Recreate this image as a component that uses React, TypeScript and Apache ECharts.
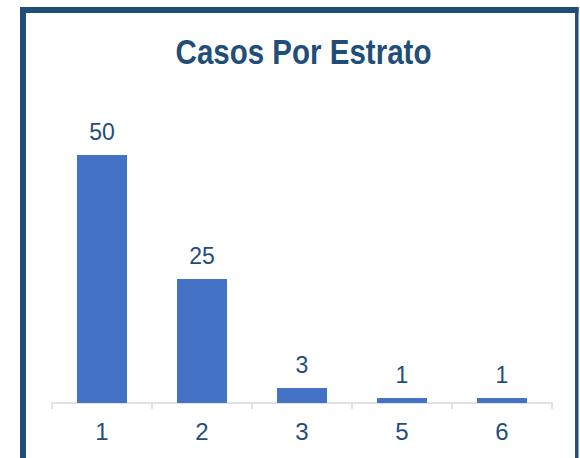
import React, { useEffect, useRef } from "react";
import * as echarts from "echarts";

const categories = ["1", "2", "3", "5", "6"];
const casos = [50, 25, 3, 1, 1];
const titleText = "Casos Por Estrato";

const FONT = "'Liberation Sans Narrow', 'Arial Narrow', 'Liberation Sans', Arial, sans-serif";
const DARK = "#1F4E79";

export default function App() {
  const ref = useRef<HTMLDivElement>(null);
  useEffect(() => {
    if (!ref.current) return;
    const chart = echarts.init(ref.current, undefined, { renderer: "svg" });
    chart.setOption({
      animation: false,
      backgroundColor: "#ffffff",
      graphic: [
        { type: "rect", shape: { x: 20, y: 7, width: 6, height: 460 }, style: { fill: DARK } },
        { type: "rect", shape: { x: 20, y: 7, width: 558.5, height: 6 }, style: { fill: DARK } },
        { type: "rect", shape: { x: 575, y: 7, width: 3.5, height: 460 }, style: { fill: DARK } },
        {
          type: "text",
          x: 303.5,
          y: 51,
          scaleX: 0.82,
          style: {
            text: titleText,
            x: 0,
            y: 0,
            textAlign: "center",
            textVerticalAlign: "middle",
            fontFamily: FONT,
            fontWeight: "bold",
            fontSize: 36,
            fill: DARK,
          },
        },
      ],
      grid: { left: 52, right: 28, top: 155, bottom: 55, containLabel: false },
      xAxis: {
        type: "category",
        data: categories,
        axisLine: { lineStyle: { color: "#D9D9D9", width: 1.5 } },
        axisTick: { show: true, length: 6, lineStyle: { color: "#D9D9D9", width: 1.5 } },
        axisLabel: { fontFamily: FONT, fontSize: 24, color: DARK, margin: 16 },
      },
      yAxis: {
        type: "value",
        min: 0,
        max: 50,
        show: false,
        splitLine: { show: false },
      },
      series: [
        {
          type: "bar",
          data: casos,
          barWidth: "50%",
          itemStyle: { color: "#4472C4" },
          label: {
            show: true,
            position: "top",
            distance: 12,
            fontFamily: FONT,
            fontSize: 23,
            color: DARK,
          },
        },
      ],
    });
    return () => chart.dispose();
  }, []);
  return (
    <div
      ref={ref}
      style={{ position: "fixed", left: 0, top: 0, width: 580, height: 458 }}
    />
  );
}
